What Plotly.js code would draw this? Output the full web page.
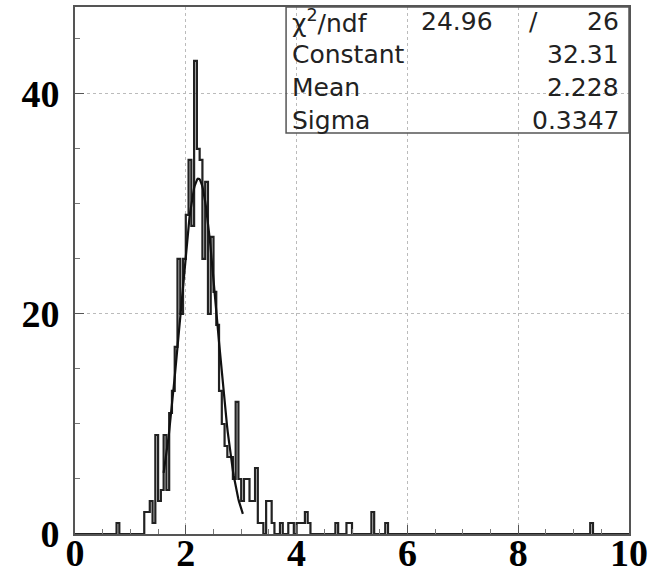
<!DOCTYPE html>
<html>
<head>
<meta charset="utf-8">
<script src="https://cdn.plot.ly/plotly-3.0.1.min.js"></script>
<style>html,body{margin:0;padding:0;background:#fff;}#chart{width:656px;height:574px;}</style>
</head>
<body>
<div id="chart"></div>
<script>
// Histogram: 200 bins of width 0.05 on [0,10]; only non-empty bins listed
const binWidth = 0.05;
const xMin = 0, xMax = 10;
const binLowEdges = [0.75, 1.25, 1.30, 1.35, 1.40, 1.45, 1.50, 1.55, 1.60, 1.65,
  1.70, 1.75, 1.80, 1.85, 1.90, 1.95, 2.00, 2.05, 2.10, 2.15,
  2.20, 2.25, 2.30, 2.35, 2.40, 2.45, 2.50, 2.55, 2.60, 2.65,
  2.70, 2.75, 2.80, 2.85, 2.90, 2.95, 3.00, 3.05, 3.10, 3.15,
  3.20, 3.25, 3.30, 3.35, 3.45, 3.50, 3.55, 3.70, 3.85, 3.90,
  4.00, 4.05, 4.10, 4.15, 4.20, 4.70, 4.90, 4.95, 5.35, 5.60, 9.30];
const binCounts = [1, 2, 2, 3, 1, 9, 3, 4, 9, 4,
  11, 13, 17, 25, 20, 25, 29, 34, 28, 43,
  35, 34, 25, 32, 20, 27, 22, 19, 13, 10,
  8, 7, 7, 5, 12, 5, 3, 5, 5, 3,
  3, 6, 1, 1, 3, 3, 1, 1, 1, 1,
  1, 1, 1, 2, 1, 1, 1, 1, 2, 1, 1];

// Gaussian fit parameters (from the stats box)
const fitConstant = 32.31, fitMean = 2.228, fitSigma = 0.3347;
const fitRange = [1.6, 3.03];

// Stats box text
const statLabels = ['χ<sup>2</sup>/ndf', 'Constant', 'Mean', 'Sigma'];
const statValues = ['26', '32.31', '2.228', '0.3347'];
const chi2Value = '24.96';

const xTickVals = [0, 2, 4, 6, 8, 10];
const yTickVals = [0, 20, 40];

// build step outline
const nBins = Math.round((xMax - xMin) / binWidth);
const counts = new Array(nBins).fill(0);
binLowEdges.forEach((e, k) => { counts[Math.round((e - xMin) / binWidth)] = binCounts[k]; });
const sx = [], sy = [];
for (let i = 0; i < nBins; i++) { sx.push(xMin + i * binWidth); sy.push(counts[i]); }
sx.push(xMax); sy.push(counts[nBins - 1]);

const fx = [], fy = [];
const nf = 120;
for (let i = 0; i <= nf; i++) {
  const x = fitRange[0] + (fitRange[1] - fitRange[0]) * i / nf;
  fx.push(x);
  fy.push(fitConstant * Math.exp(-0.5 * Math.pow((x - fitMean) / fitSigma, 2)));
}

const traces = [
  {x: sx, y: sy, type: 'scatter', mode: 'lines', line: {shape: 'hv', color: '#222', width: 2.2}, hoverinfo: 'skip'},
  {x: fx, y: fy, type: 'scatter', mode: 'lines', line: {color: '#111', width: 2.2}, hoverinfo: 'skip'}
];

const tickFont = {family: 'Liberation Serif, Times New Roman, serif', size: 38, color: '#000', weight: 'bold'};
const statFont = {family: 'DejaVu Sans, sans-serif', size: 25, color: '#222'};

const rowY = [0.972, 0.910, 0.848, 0.785];
const annotations = [];
statLabels.forEach((t, i) => annotations.push({xref: 'paper', yref: 'paper', x: 0.388, y: rowY[i], text: t, showarrow: false, xanchor: 'left', yanchor: 'middle', font: statFont}));
statValues.forEach((t, i) => annotations.push({xref: 'paper', yref: 'paper', x: 0.9856, y: rowY[i], text: t, showarrow: false, xanchor: 'right', yanchor: 'middle', font: statFont}));
annotations.push({xref: 'paper', yref: 'paper', x: 0.758, y: rowY[0], text: chi2Value, showarrow: false, xanchor: 'right', yanchor: 'middle', font: statFont});
annotations.push({xref: 'paper', yref: 'paper', x: 0.827, y: rowY[0], text: '/', showarrow: false, xanchor: 'center', yanchor: 'middle', font: statFont});

const layout = {
  width: 656, height: 574,
  margin: {l: 75, r: 27, t: 7, b: 40},
  paper_bgcolor: '#fff', plot_bgcolor: '#fff',
  showlegend: false,
  xaxis: {
    range: [xMin, xMax], tickvals: xTickVals, ticktext: xTickVals.map(String),
    ticks: 'inside', ticklen: 9, tickwidth: 1, tickcolor: '#555',
    showline: true, linecolor: '#555', linewidth: 2, mirror: true,
    showgrid: true, gridcolor: '#bbb', griddash: 'dot', gridwidth: 1,
    zeroline: false, tickfont: tickFont, ticklabelstandoff: -16,
    minor: {dtick: 0.5, ticks: 'inside', ticklen: 5, tickcolor: '#777', showgrid: false}
  },
  yaxis: {
    range: [0, 47.9], tickvals: yTickVals, ticktext: yTickVals.map(String),
    ticks: 'inside', ticklen: 9, tickwidth: 1, tickcolor: '#555',
    showline: true, linecolor: '#555', linewidth: 2, mirror: true,
    showgrid: true, gridcolor: '#bbb', griddash: 'dot', gridwidth: 1,
    zeroline: false, tickfont: tickFont, ticklabelstandoff: 6,
    minor: {dtick: 5, ticks: 'inside', ticklen: 5, tickcolor: '#777', showgrid: false}
  },
  shapes: [{type: 'rect', xref: 'paper', yref: 'paper', x0: 0.381, x1: 1, y0: 0.761, y1: 1,
    line: {color: '#555', width: 1.5}, fillcolor: 'rgba(0,0,0,0)'}],
  annotations: annotations
};

Plotly.newPlot('chart', traces, layout, {staticPlot: true, displayModeBar: false});
</script>
</body>
</html>
